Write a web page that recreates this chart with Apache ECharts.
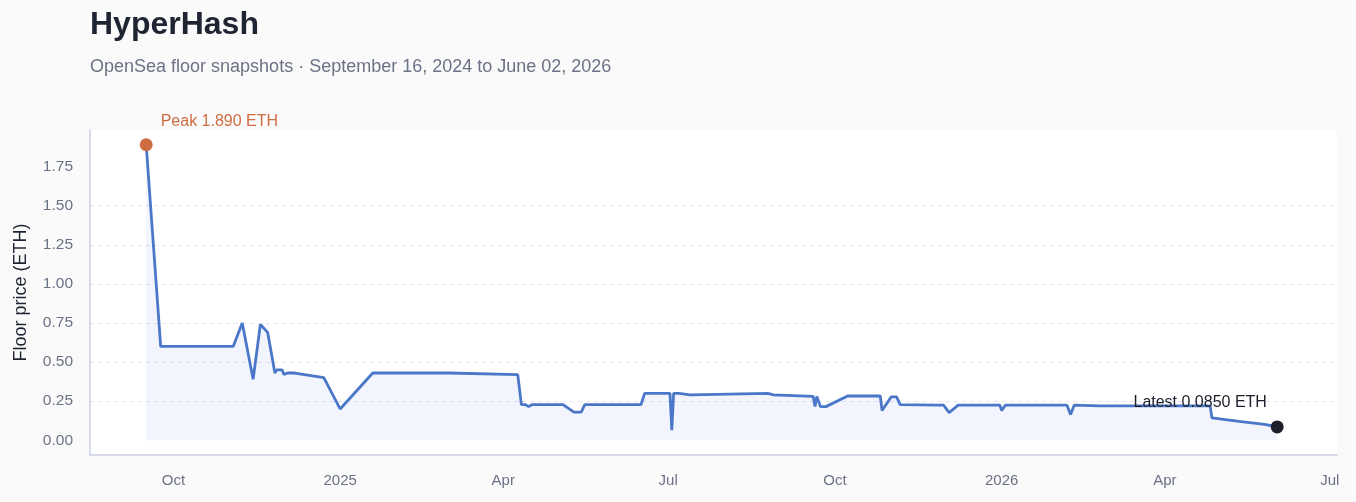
<!DOCTYPE html>
<html>
<head>
<meta charset="utf-8">
<script src="https://cdn.jsdelivr.net/npm/echarts@6/dist/echarts.min.js"></script>
<style>
  html, body { margin: 0; padding: 0; background: #fafafa; }
  #chart { width: 1356px; height: 502px; }
</style>
</head>
<body>
<div id="chart"></div>
<script>
// ---- data ----
const dates = [
  '2024-09-16','2024-09-24','2024-11-03','2024-11-08','2024-11-14','2024-11-18','2024-11-22',
  '2024-11-26','2024-11-27','2024-11-30','2024-12-01','2024-12-03','2024-12-07','2024-12-23',
  '2025-01-01','2025-01-19','2025-03-02','2025-03-03','2025-04-09','2025-04-11','2025-04-13',
  '2025-04-15','2025-04-17','2025-05-04','2025-05-10','2025-05-14','2025-05-16','2025-06-16',
  '2025-06-18','2025-07-02','2025-07-03','2025-07-04','2025-07-07','2025-07-13','2025-08-25',
  '2025-08-28','2025-09-19','2025-09-20','2025-09-21','2025-09-22','2025-09-23','2025-09-26',
  '2025-10-08','2025-10-26','2025-10-27','2025-11-01','2025-11-04','2025-11-06','2025-11-27',
  '2025-11-30','2025-12-03','2025-12-08','2025-12-31','2026-01-01','2026-01-03','2026-02-06',
  '2026-02-08','2026-02-10','2026-02-24','2026-04-26','2026-04-27','2026-05-12','2026-05-26',
  '2026-05-29','2026-06-02'
];
const floorEth = [
  1.89, 0.60, 0.60, 0.75, 0.39, 0.74, 0.69,
  0.43, 0.45, 0.45, 0.42, 0.43, 0.43, 0.40,
  0.20, 0.43, 0.43, 0.42, 0.42, 0.228, 0.228,
  0.215, 0.228, 0.228, 0.18, 0.18, 0.228, 0.228,
  0.30, 0.30, 0.065, 0.30, 0.30, 0.29, 0.30,
  0.29, 0.28, 0.215, 0.28, 0.28, 0.215, 0.215,
  0.283, 0.283, 0.19, 0.277, 0.277, 0.228, 0.225,
  0.224, 0.177, 0.224, 0.224, 0.19, 0.224, 0.224,
  0.164, 0.224, 0.22, 0.22, 0.143, 0.121, 0.102,
  0.095, 0.085
];
const peakDate = '2024-09-16', peakValue = 1.89;
const latestDate = '2026-06-02', latestValue = 0.085;
const yTicks = [0, 0.25, 0.5, 0.75, 1.0, 1.25, 1.5, 1.75];
const xTickDates = ['2024-10-01','2025-01-01','2025-04-01','2025-07-01','2025-10-01','2026-01-01','2026-04-01','2026-07-01'];
const xTickLabels = ['Oct','2025','Apr','Jul','Oct','2026','Apr','Jul'];
const xMin = '2024-08-16', xMax = '2026-07-05';
const yMin = -0.0945, yMax = 1.9845;

// ---- chart ----
const toTs = s => { const p = s.split('-').map(Number); return Date.UTC(p[0], p[1]-1, p[2]); };
const xTickTs = xTickDates.map(toTs);
const labelFor = v => { const i = xTickTs.indexOf(v); return i >= 0 ? xTickLabels[i] : ''; };

const FONT = 'Liberation Sans, Arial, sans-serif';
const chart = echarts.init(document.getElementById('chart'), null, { renderer: 'canvas' });
chart.setOption({
  backgroundColor: '#fafafa',
  animation: false,
  textStyle: { fontFamily: FONT },
  title: [
    { text: 'HyperHash', left: 90, top: 9, padding: 0,
      textStyle: { fontFamily: FONT, fontSize: 32, fontWeight: 'bold', color: '#1f2433' } },
    { text: 'OpenSea floor snapshots · September 16, 2024 to June 02, 2026', left: 90, top: 58, padding: 0,
      textStyle: { fontFamily: FONT, fontSize: 18, fontWeight: 'normal', color: '#6b7285' } }
  ],
  grid: { left: 90, right: 19, top: 130, bottom: 47, show: true, backgroundColor: '#ffffff',
          borderWidth: 0, containLabel: false, outerBoundsMode: 'none' },
  xAxis: {
    type: 'value',
    min: toTs(xMin), max: toTs(xMax),
    axisLine: { show: true, onZero: false, lineStyle: { color: '#d6d9e8', width: 2 } },
    axisTick: { show: false, customValues: xTickTs },
    splitLine: { show: false },
    axisLabel: { customValues: xTickTs, formatter: v => labelFor(v), color: '#6b7285', fontSize: 15,
                 margin: 18, fontFamily: FONT, hideOverlap: false }
  },
  yAxis: {
    type: 'value',
    min: yMin, max: yMax,
    name: 'Floor price (ETH)', nameLocation: 'middle', nameGap: 60,
    nameTextStyle: { color: '#1f2433', fontSize: 18, fontFamily: FONT },
    axisLine: { show: true, lineStyle: { color: '#d6d9e8', width: 2 } },
    axisTick: { show: false, customValues: yTicks },
    splitLine: { show: true, showMinLine: false, showMaxLine: false,
                 lineStyle: { color: '#e3e6ee', type: [4, 4], width: 1 } },
    axisLabel: { customValues: yTicks, formatter: v => v.toFixed(2), color: '#6b7285', fontSize: 15.5,
                 margin: 17, fontFamily: FONT }
  },
  series: [
    {
      type: 'line',
      data: dates.map((d, i) => [toTs(d), floorEth[i]]),
      showSymbol: false,
      symbol: 'none',
      lineStyle: { color: '#4b77c8', width: 2.8 },
      areaStyle: { color: 'rgba(85,125,235,0.11)' },
      z: 2
    },
    {
      type: 'scatter',
      symbolSize: 13,
      z: 5,
      itemStyle: { opacity: 1 },
      data: [
        { value: [toTs(peakDate), peakValue],
          itemStyle: { color: '#cf6d42', opacity: 1 },
          label: { show: true, position: 'right', distance: 5, offset: [3, -23],
                   formatter: 'Peak ' + peakValue.toFixed(3) + ' ETH',
                   color: '#cf6d42', fontSize: 16, fontFamily: FONT } },
        { value: [toTs(latestDate), latestValue],
          itemStyle: { color: '#1c1f2b', opacity: 1 },
          label: { show: true, position: 'top', distance: 5, offset: [-77, -5],
                   formatter: 'Latest ' + latestValue.toFixed(4) + ' ETH',
                   color: '#1c1f2b', fontSize: 16, fontFamily: FONT } }
      ]
    }
  ]
});
</script>
</body>
</html>
